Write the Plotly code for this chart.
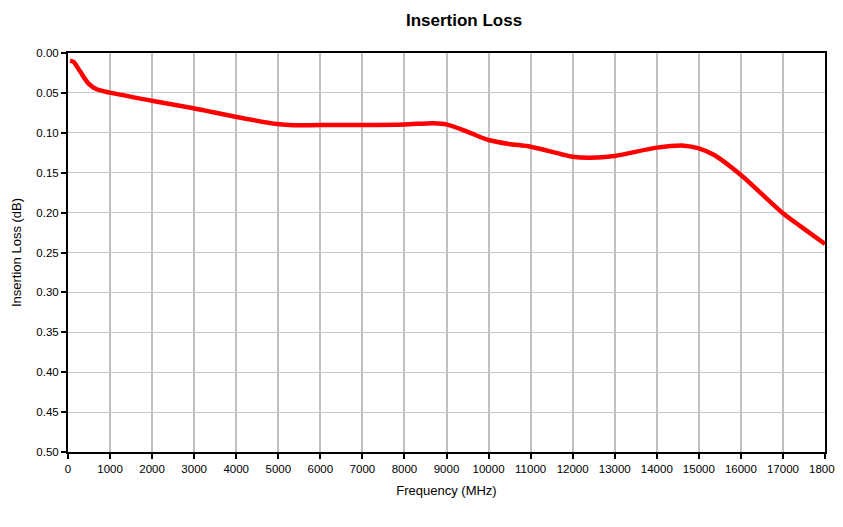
import plotly.graph_objects as go

freq_mhz = [50, 130, 286, 483, 683, 1000, 1992, 2984, 3976, 4968, 5365, 6000, 7000, 8000,
            8698, 9000, 9492, 10000, 10484, 11000, 11714, 12000, 12429, 13000, 14000,
            14650, 15000, 15365, 16000, 17000, 17429, 18000]
loss_db = [0.0096, 0.011, 0.023, 0.038, 0.0455, 0.0497, 0.0598, 0.0693, 0.0798, 0.089,
           0.0906, 0.0902, 0.0902, 0.0896, 0.0879, 0.0894, 0.0986, 0.109, 0.114, 0.1174,
           0.1265, 0.13, 0.1312, 0.129, 0.1186, 0.1161, 0.1195, 0.1278, 0.1529, 0.2009,
           0.2176, 0.2393]

x_ticks = list(range(0, 18001, 1000))
x_tick_labels = [str(v) for v in x_ticks]
y_ticks = [0.0, 0.05, 0.10, 0.15, 0.20, 0.25, 0.30, 0.35, 0.40, 0.45, 0.50]

fig = go.Figure()
fig.add_trace(go.Scatter(x=freq_mhz, y=loss_db, mode="lines",
                         line=dict(color="#ff0000", width=4.5, shape="spline", smoothing=0.8),
                         showlegend=False, hoverinfo="skip"))

W, H = 827, 500
font_family = "Liberation Sans, Arial, sans-serif"
fig.update_layout(
    width=W, height=H,
    margin=dict(l=60, r=W - 817, t=45, b=H - 444, autoexpand=False),
    paper_bgcolor="white", plot_bgcolor="white",
    title=dict(text="<b>Insertion Loss</b>", x=456 / W, xanchor="center", y=1 - 12 / H, yanchor="middle",
               font=dict(family=font_family, size=17, color="black"), automargin=False),
    font=dict(family=font_family, size=12, color="black"),
)
fig.update_xaxes(
    range=[0, 18000], tickvals=x_ticks, ticktext=x_tick_labels,
    showgrid=True, gridcolor="#c0c0c0", gridwidth=2,
    showline=True, linecolor="black", linewidth=2, mirror=True,
    ticks="outside", ticklen=5, tickcolor="black", tickwidth=2,
    tickfont=dict(size=11.5), zeroline=False, automargin=False,
    ticklabeloverflow="allow",
    title=dict(text="Frequency (MHz)", font=dict(size=13), standoff=12),
)
fig.update_yaxes(
    range=[0.5, 0.0], tickvals=y_ticks, ticktext=[f"{v:.2f}" for v in y_ticks],
    showgrid=True, gridcolor="#c8c8c8", gridwidth=1,
    showline=True, linecolor="black", linewidth=2, mirror=True,
    ticks="outside", ticklen=5, tickcolor="black", tickwidth=2,
    tickfont=dict(size=11.5), zeroline=False, automargin=False,
    title=dict(text="Insertion Loss (dB)", font=dict(size=13), standoff=12),
)

fig.write_html("out.html")
